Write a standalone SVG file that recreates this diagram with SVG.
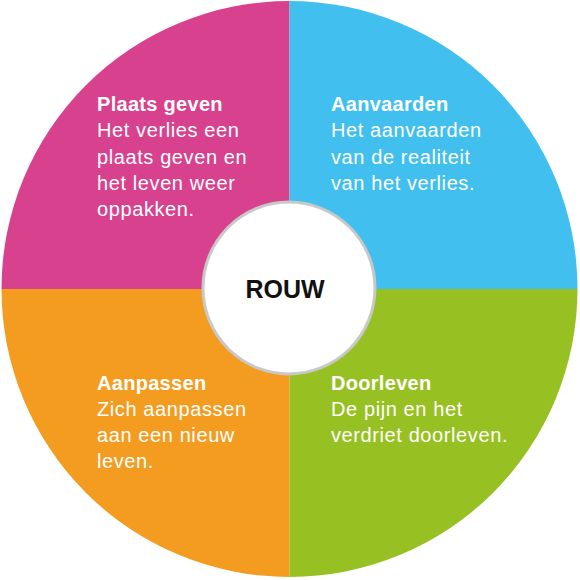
<svg xmlns="http://www.w3.org/2000/svg" width="580" height="580" viewBox="0 0 580 580">
<style>
.t{font-family:"Liberation Sans",Arial,sans-serif;font-size:20px;fill:#fff;letter-spacing:0.6px}
.b{font-weight:bold;letter-spacing:0.3px}
</style>
<g id="q-plaats">
<path d="M289.5,289 L289.5,1 A288,288 0 0 0 1.5,289 Z" fill="#D8418D"/>
<text class="t" x="97"><tspan class="b" x="97" y="111">Plaats geven</tspan><tspan x="97" y="137">Het verlies een</tspan><tspan x="97" y="164">plaats geven en</tspan><tspan x="97" y="190">het leven weer</tspan><tspan x="97" y="216">oppakken.</tspan></text>
</g>
<g id="q-aanvaarden">
<path d="M289.5,289 L289.5,1 A288,288 0 0 1 577.5,289 Z" fill="#41BFEF"/>
<text class="t"><tspan class="b" x="331" y="111">Aanvaarden</tspan><tspan x="331" y="137">Het aanvaarden</tspan><tspan x="331" y="164">van de realiteit</tspan><tspan x="331" y="190">van het verlies.</tspan></text>
</g>
<g id="q-aanpassen">
<path d="M289.5,289 L1.5,289 A288,288 0 0 0 289.5,577 Z" fill="#F39C1F"/>
<text class="t"><tspan class="b" x="97" y="390">Aanpassen</tspan><tspan x="97" y="416">Zich aanpassen</tspan><tspan x="97" y="442">aan een nieuw</tspan><tspan x="97" y="468">leven.</tspan></text>
</g>
<g id="q-doorleven">
<path d="M289.5,289 L577.5,289 A288,288 0 0 1 289.5,577 Z" fill="#97C122"/>
<text class="t"><tspan class="b" x="331" y="390">Doorleven</tspan><tspan x="331" y="416">De pijn en het</tspan><tspan x="331" y="442">verdriet doorleven.</tspan></text>
</g>
<g id="center">
<circle cx="289" cy="288" r="86" fill="#fff" stroke="#C8C8C8" stroke-width="3"/>
<text x="285" y="298" text-anchor="middle" font-family="Liberation Sans, Arial, sans-serif" font-weight="bold" font-size="25" fill="#111">ROUW</text>
</g>
</svg>
